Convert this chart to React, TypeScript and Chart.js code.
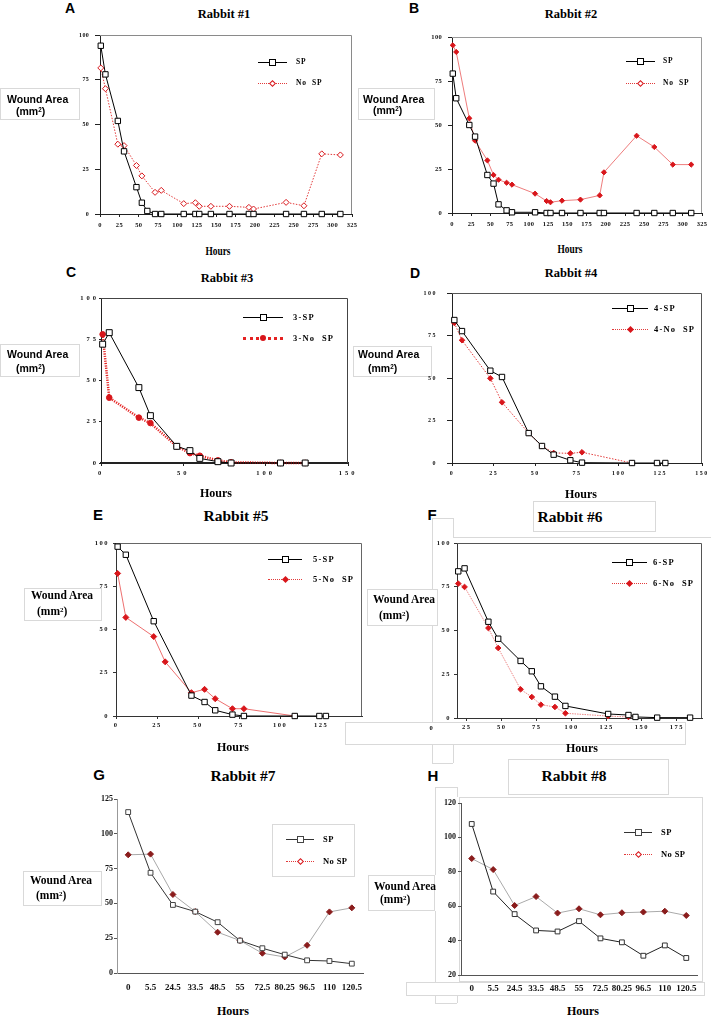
import React, { useEffect, useRef } from 'react';
import { Chart, registerables } from 'chart.js';
Chart.register(...registerables);

// ---------------- data ----------------
const yTicks100 = [0, 25, 50, 75, 100];
const xTicksAB = [0, 25, 50, 75, 100, 125, 150, 175, 200, 225, 250, 275, 300, 325];
const xTicksC = [0, 50, 100, 150];
const xTicksD = [0, 25, 50, 75, 100, 125, 150];
const xTicksE = [0, 25, 50, 75, 100, 125];
const xTicksF = [25, 50, 75, 100, 125, 150, 175];
const yTicksG = [0, 25, 50, 75, 100, 125];
const yTicksH = [20, 40, 60, 80, 100, 120];
const hoursGH = ['0', '5.5', '24.5', '33.5', '48.5', '55', '72.5', '80.25', '96.5', '110', '120.5'];

const hoursA = [1, 7, 23, 31, 47, 54, 61, 71, 79, 108, 123, 128, 143, 167, 192, 198, 240, 263, 286, 310];
const spA = [94, 78, 52, 35, 15, 6.3, 1.7, 0, 0, 0, 0, 0, 0, 0, 0, 0, 0, 0, 0, 0];
const noSpA = [81.6, 70, 39, 38.2, 27.1, 21.3, null, 12.1, 13.2, 5.8, 6.3, 4.3, 4.3, 4.3, 3.7, 2.8, 6.5, 4.6, 33.6, 33];

const hoursB = [1, 5.5, 22.5, 30, 46, 54, 60.5, 71, 78, 108, 123, 128, 143, 167, 192, 197.5, 240, 263, 287, 311];
const spB = [79.2, 65.2, 50, 43.4, 21.6, 16.7, 4.9, 1.5, 0.4, 0.4, 0, 0, 0, 0, 0, 0, 0, 0, 0, 0];
const noSpB = [95.3, 91.5, 53.8, 41.1, 29.9, 21.6, 18.9, 17.2, 16.1, 11, 6.8, 6.1, 7, 7.6, 10, 23.1, 43.9, 37.5, 27.5, 27.5];

const hoursC = [1, 5, 23, 30, 46, 54, 60, 71, 79, 109, 124];
const spC = [72, 79, 45.7, 28.7, 10.1, 7.5, 2.8, 0.8, 0, 0, 0];
const noSpC = [78, 39.6, 27.5, 24.2, 10.1, 6, 4.4, 1.6, 0.4, 0, 0];

const hoursD = [1.4, 6, 23, 30, 46, 54, 61, 71, 78, 108, 123, 128];
const spD = [84.1, 77.6, 54.3, 50.6, 17.6, 10, 4.9, 1.6, 0.2, 0, 0, 0];
const noSpD = [82.4, 72.2, 49.8, 35.7, 17.6, 10, 5.9, 5.7, 6.3, 0, null, null];

const hoursE = [1, 6, 23, 30, 46, 54, 60.5, 71, 78, 109, 124, 128];
const spE = [97.9, 93.2, 54.8, null, 11.8, 8.1, 3.3, 0.8, 0, 0, 0, 0];
const noSpE = [82.4, 57, 45.9, 31.3, 13.5, 15.4, 10, 4.2, 4.2, 0, null, null];

const hoursF = [19, 23.5, 40.5, 47.5, 63.5, 71.5, 78, 88, 95.5, 126, 140.5, 145.5, 161, 184.5];
const spF = [83.8, 85.5, 55, 45.3, 32.6, 26.7, 18.1, 12.2, 6.9, 2.3, 1.7, 0.6, 0.2, 0.2];
const noSpF = [76.8, 74.9, 51.4, 40, 16.4, 12, 7.6, 6.3, 2.7, 1.1, 0.6, null, null, null];

const spG = [115.6, 72, 48.9, 44.1, 36.5, 23.3, 17.8, 13.2, 9.1, 8.6, 6.7];
const noSpG = [84.9, 85.4, 56.4, 44.1, 29.3, 23.3, 14.2, 11.5, 19.9, 43.9, 46.8];

const spH = [107.8, 68.5, 55.4, 45.9, 45.3, 51.3, 41.3, 39, 31.2, 37.2, 29.9];
const noSpH = [87.7, 81.3, 60.4, 65.6, 56, 58.5, 55, 56.2, 56.6, 57.1, 54.6];

// ---------------- styles ----------------
const SERIF = "'Liberation Serif', 'Times New Roman', serif";
const SANS = "'Liberation Sans', Arial, sans-serif";
const RED = '#d8161b';
const MAROON = '#8a1c1c';
const PAD = { l: 40, t: 8, r: 10, b: 28 };

const sq = (stroke = '#000', r = 3.8) => ({ style: 'rect', r, fill: '#fff', stroke });
const dOpen = (c = RED, r = 3) => ({ style: 'rectRot', r, fill: '#fff', stroke: c });
const dFill = (c = RED, r = 2.8) => ({ style: 'rectRot', r, fill: c, stroke: c });
const cFill = (c = RED, r = 2.8) => ({ style: 'circle', r, fill: c, stroke: c });

const framePlugin = {
  id: 'frame',
  beforeDatasetsDraw(chart: any, _a: any, opts: any) {
    if (!opts || !opts.color) return;
    const { ctx, chartArea } = chart;
    const { left, top, right, bottom } = chartArea;
    ctx.save();
    ctx.strokeStyle = opts.color;
    ctx.lineWidth = 1;
    ctx.beginPath();
    ctx.moveTo(left, top + 0.5);
    ctx.lineTo(right - 0.5, top + 0.5);
    ctx.lineTo(right - 0.5, bottom);
    ctx.stroke();
    ctx.restore();
  },
};
const spacingPlugin = {
  id: 'spacing',
  beforeDraw(chart: any, _a: any, opts: any) {
    chart.ctx.letterSpacing = (opts && opts.v) || '0px';
  },
  afterDraw(chart: any) {
    chart.ctx.letterSpacing = '0px';
  },
};

function buildConfig(spec: any) {
  const datasets = spec.series.map((s: any) => ({
    data: s.xs ? s.xs.map((x: number, i: number) => ({ x, y: s.ys[i] })).filter((p: any) => p.y !== null) : s.ys,
    borderColor: s.color,
    borderWidth: s.width,
    borderDash: s.dash,
    pointStyle: s.mk.style,
    pointRadius: s.mk.r,
    pointBackgroundColor: s.mk.fill,
    pointBorderColor: s.mk.stroke,
    pointBorderWidth: 1,
    tension: 0,
    fill: false,
    clip: false,
  }));
  const tickFont = (size: number) => ({ family: SERIF, weight: 'bold', size });
  const x: any = {
    type: spec.labels ? 'category' : 'linear',
    offset: !!spec.labels,
    afterFit: (ax: any) => { ax.height = PAD.b; ax.paddingLeft = 0; ax.paddingRight = 0; },
    grid: { display: spec.xTL > 0, drawOnChartArea: false, drawTicks: spec.xTL > 0, tickLength: spec.xTL, color: spec.axisColor },
    border: { display: true, color: spec.xAxisColor || spec.axisColor, width: spec.xAxisWidth || 1 },
    ticks: { color: '#111', font: tickFont(spec.xFont), padding: spec.xPad, autoSkip: false, maxRotation: 0, minRotation: 0 },
  };
  if (!spec.labels) {
    x.min = spec.xMin;
    x.max = spec.xMax;
    x.afterBuildTicks = (ax: any) => { ax.ticks = spec.xTicks.map((v: number) => ({ value: v })); };
  }
  const y: any = {
    min: spec.yMin,
    max: spec.yMax,
    afterBuildTicks: (ax: any) => { ax.ticks = spec.yTicks.map((v: number) => ({ value: v })); },
    afterFit: (ax: any) => { ax.width = PAD.l; ax.paddingTop = 0; ax.paddingBottom = 0; },
    grid: { display: true, drawOnChartArea: false, drawTicks: true, tickLength: spec.yTL, color: spec.axisColor },
    border: { display: true, color: spec.yAxisColor || spec.axisColor, width: 1 },
    ticks: { color: '#111', font: tickFont(spec.yFont), padding: spec.yPad, autoSkip: false },
  };
  return {
    type: 'line',
    data: { labels: spec.labels, datasets },
    plugins: [framePlugin, spacingPlugin],
    options: {
      responsive: false,
      animation: false,
      events: [],
      layout: { padding: { left: 0, top: PAD.t, right: PAD.r, bottom: 0 } },
      plugins: {
        legend: { display: false },
        tooltip: { enabled: false },
        title: { display: false },
        frame: { color: spec.frame },
        spacing: { v: spec.ls },
      },
      scales: { x, y },
    },
  };
}

function Plot({ spec }: any) {
  const ref = useRef<HTMLCanvasElement>(null);
  const { rect } = spec;
  const w = rect.r - rect.l + PAD.l + PAD.r;
  const h = rect.b - rect.t + PAD.t + PAD.b;
  useEffect(() => {
    const chart = new Chart(ref.current as any, buildConfig(spec) as any);
    return () => chart.destroy();
  }, []);
  return (
    <canvas
      ref={ref}
      width={w}
      height={h}
      style={{ position: 'absolute', left: rect.l - PAD.l, top: rect.t - PAD.t, width: w, height: h }}
    />
  );
}

const common = { yMin: 0, yMax: 100, yTicks: yTicks100 };

const specs: any[] = [
  {
    ...common, rect: { l: 100, t: 35, r: 352, b: 214 }, xMin: 0, xMax: 325, xTicks: xTicksAB,
    series: [
      { xs: hoursA, ys: spA, color: '#000', width: 1, dash: [], mk: sq('#000', 3.8) },
      { xs: hoursA, ys: noSpA, color: '#e23a3a', width: 1, dash: [1.5, 1.5], mk: dOpen(RED, 3) },
    ],
    axisColor: '#222', frame: '#8a8a8a', xFont: 6.5, yFont: 6, ls: '0.3px', xTL: 3, xPad: 4, yTL: 5, yPad: 6,
  },
  {
    ...common, rect: { l: 452, t: 37, r: 702, b: 213 }, xMin: 0, xMax: 325, xTicks: xTicksAB,
    series: [
      { xs: hoursB, ys: spB, color: '#000', width: 1, dash: [], mk: sq('#000', 3.8) },
      { xs: hoursB, ys: noSpB, color: '#e85a5a', width: 0.8, dash: [], mk: dFill(RED, 2.6) },
    ],
    axisColor: '#222', frame: '#9a9a9a', xFont: 6.5, yFont: 6.5, ls: '0.3px', xTL: 3, xPad: 4, yTL: 4, yPad: 6,
  },
  {
    ...common, rect: { l: 101, t: 298, r: 348, b: 463 }, xMin: 0, xMax: 150, xTicks: xTicksC,
    series: [
      { xs: hoursC, ys: spC, color: '#000', width: 1, dash: [], mk: sq('#000', 4.2) },
      { xs: hoursC, ys: noSpC, color: '#e52222', width: 2.5, dash: [1.2, 1.2], mk: cFill(RED, 2.8) },
    ],
    axisColor: '#222', xAxisWidth: 2, frame: '#444', xFont: 6.5, yFont: 6.5, ls: '3px', xTL: 3, xPad: 3.5, yTL: 2, yPad: 0,
  },
  {
    ...common, rect: { l: 452, t: 293, r: 702, b: 463 }, xMin: 0, xMax: 150, xTicks: xTicksD,
    series: [
      { xs: hoursD, ys: spD, color: '#000', width: 1, dash: [], mk: sq('#000', 3.8) },
      { xs: hoursD, ys: noSpD, color: '#e23a3a', width: 1, dash: [1.5, 1.5], mk: dFill(RED, 2.8) },
    ],
    axisColor: '#222', frame: '#555', xFont: 6, yFont: 6, ls: '1.5px', xTL: 3, xPad: 3.5, yTL: 5, yPad: 10,
  },
  {
    ...common, rect: { l: 116, t: 543, r: 362, b: 716 }, xMin: 0, xMax: 150, xTicks: xTicksE,
    series: [
      { xs: hoursE, ys: spE, color: '#000', width: 1, dash: [], mk: sq('#000', 3.8) },
      { xs: hoursE, ys: noSpE, color: '#e84a4a', width: 0.8, dash: [], mk: dFill(RED, 3) },
    ],
    axisColor: '#333', frame: '#666', xFont: 6.5, yFont: 6.5, ls: '1.5px', xTL: 3, xPad: 2.5, yTL: 3, yPad: 4,
  },
  {
    ...common, rect: { l: 457, t: 543, r: 702, b: 718 }, xMin: 18.1, xMax: 193, xTicks: xTicksF,
    series: [
      { xs: hoursF, ys: spF, color: '#000', width: 1, dash: [], mk: sq('#000', 3.8) },
      { xs: hoursF, ys: noSpF, color: '#e86a6a', width: 0.8, dash: [1.5, 1], mk: dFill(RED, 2.8) },
    ],
    axisColor: '#333', frame: '#555', xFont: 6.5, yFont: 6.5, ls: '1.5px', xTL: 3, xPad: 2.5, yTL: 3, yPad: 3,
  },
  {
    rect: { l: 117, t: 799, r: 363, b: 973 }, labels: hoursGH, yMin: 0, yMax: 125, yTicks: yTicksG,
    series: [
      { xs: null, ys: spG, color: '#333', width: 1, dash: [], mk: sq('#444', 3.4) },
      { xs: null, ys: noSpG, color: '#a8a8a8', width: 1, dash: [], mk: dFill(MAROON, 3) },
    ],
    axisColor: '#555', yAxisColor: '#999', frame: null, xFont: 9, yFont: 8, ls: '0px', xTL: 0, xPad: 9, yTL: 3, yPad: 1,
  },
  {
    rect: { l: 461, t: 803, r: 697, b: 975 }, labels: hoursGH, yMin: 20, yMax: 120, yTicks: yTicksH,
    series: [
      { xs: null, ys: spH, color: '#222', width: 1, dash: [], mk: sq('#333', 3.4) },
      { xs: null, ys: noSpH, color: '#aaaaaa', width: 1, dash: [], mk: dFill(MAROON, 3) },
    ],
    axisColor: '#555', frame: null, xFont: 9, yFont: 8, ls: '0px', xTL: 0, xPad: 8, yTL: 3, yPad: 2,
  },
];

// ---------------- overlay helpers ----------------
function T({ x, y, size, family = SERIF, weight = 'bold', anchor = 'center', ls = 0, sx = 1, children }: any) {
  const base = anchor === 'center' ? 'translate(-50%,-50%)' : 'translate(0,-50%)';
  return (
    <div
      style={{
        position: 'absolute', left: x, top: y,
        transform: sx !== 1 ? `${base} scaleX(${sx})` : base,
        fontSize: size, fontFamily: family, fontWeight: weight, lineHeight: 1,
        whiteSpace: 'pre', color: '#000', letterSpacing: ls,
      }}
    >
      {children}
    </div>
  );
}

const GRAY = '#d9d9d9';
function HL({ x1, x2, y }: any) {
  return <div style={{ position: 'absolute', left: x1, top: y, width: x2 - x1, height: 1, background: GRAY }} />;
}
function VL({ x, y1, y2 }: any) {
  return <div style={{ position: 'absolute', left: x, top: y1, width: 1, height: y2 - y1, background: GRAY }} />;
}
function Bx({ l, t, r, b, bg = 'transparent' }: any) {
  return (
    <div style={{ position: 'absolute', left: l, top: t, width: r - l, height: b - t, border: `1px solid ${GRAY}`, background: bg, boxSizing: 'border-box' }} />
  );
}

function Mark({ cx, cy, kind }: any) {
  const base: any = { position: 'absolute', boxSizing: 'border-box' };
  if (kind === 'sq') {
    return <div style={{ ...base, left: cx - 3.5, top: cy - 3.5, width: 7, height: 7, border: '1px solid #000', background: '#fff' }} />;
  }
  if (kind === 'sqg') {
    return <div style={{ ...base, left: cx - 3.5, top: cy - 3.5, width: 7, height: 7, border: '1px solid #444', background: '#fff' }} />;
  }
  if (kind === 'cFill') {
    return <div style={{ ...base, left: cx - 3, top: cy - 3, width: 6, height: 6, borderRadius: '50%', background: RED }} />;
  }
  const open = kind === 'dOpen';
  return (
    <div
      style={{
        ...base, left: cx - 2.5, top: cy - 2.5, width: 5, height: 5, transform: 'rotate(45deg)',
        border: open ? `1px solid ${RED}` : 'none', background: open ? '#fff' : RED,
      }}
    />
  );
}

function Legend({ x1, x2, tx, y1, y2, a, b, la, lb, ma, mb, size, ls }: any) {
  const cx = (x1 + x2) / 2;
  const lineDiv = (y: number, border: string) => {
    const w = parseFloat(border);
    return <div style={{ position: 'absolute', left: x1, top: y - w / 2, width: x2 - x1, height: 0, borderTop: border }} />;
  };
  return (
    <>
      {lineDiv(y1, la)}
      <Mark cx={cx} cy={y1} kind={ma} />
      <T x={tx} y={y1} size={size} anchor="left" ls={ls}>{a}</T>
      {lineDiv(y2, lb)}
      <Mark cx={cx} cy={y2} kind={mb} />
      <T x={tx} y={y2} size={size} anchor="left" ls={ls}>{b}</T>
    </>
  );
}

const legends = [
  { x1: 258, x2: 287, tx: 296, y1: 62, y2: 83, a: 'SP', b: 'No  SP', la: '1px solid #000', lb: '1px dotted #e23a3a', ma: 'sq', mb: 'dOpen', size: 7.5, ls: 0.8 },
  { x1: 626, x2: 655, tx: 663, y1: 61, y2: 83, a: 'SP', b: 'No  SP', la: '1px solid #000', lb: '1px dotted #e23a3a', ma: 'sq', mb: 'dOpen', size: 7.5, ls: 0.8 },
  { x1: 243, x2: 283, tx: 293, y1: 317, y2: 338, a: '3-SP', b: '3-No  SP', la: '1px solid #000', lb: '3px dotted #e52222', ma: 'sq', mb: 'cFill', size: 8.5, ls: 1.2 },
  { x1: 612, x2: 648, tx: 654, y1: 308, y2: 329, a: '4-SP', b: '4-No  SP', la: '1px solid #000', lb: '1px dotted #e23a3a', ma: 'sq', mb: 'dFill', size: 8.5, ls: 1.2 },
  { x1: 268, x2: 302, tx: 313, y1: 559, y2: 579, a: '5-SP', b: '5-No  SP', la: '1px solid #000', lb: '1px dotted #e23a3a', ma: 'sq', mb: 'dFill', size: 8.5, ls: 1.2 },
  { x1: 612, x2: 647, tx: 653, y1: 562, y2: 583, a: '6-SP', b: '6-No  SP', la: '1px solid #000', lb: '1px dotted #e23a3a', ma: 'sq', mb: 'dFill', size: 8.5, ls: 1.2 },
  { x1: 286, x2: 314, tx: 323, y1: 839, y2: 861, a: 'SP', b: 'No SP', la: '1px solid #333', lb: '1px dotted #e23a3a', ma: 'sqg', mb: 'dOpen', size: 8.5, ls: 0.4 },
  { x1: 624, x2: 652, tx: 661, y1: 832, y2: 854, a: 'SP', b: 'No SP', la: '1px solid #333', lb: '1px dotted #e23a3a', ma: 'sqg', mb: 'dOpen', size: 8.5, ls: 0.4 },
];

const letters: [string, number, number, number][] = [
  ['A', 70, 8, 14], ['B', 414, 8, 14], ['C', 71, 272, 14], ['D', 415, 273, 14],
  ['E', 98, 514, 15], ['F', 432, 514, 15], ['G', 99, 774, 15], ['H', 433, 775, 15],
];
const titles: [string, number, number, number][] = [
  ['Rabbit #1', 224, 14, 12.5], ['Rabbit #2', 571, 14, 12.5], ['Rabbit #3', 227, 278, 12.5], ['Rabbit #4', 571, 273, 12.5],
  ['Rabbit #5', 236, 516, 15.5], ['Rabbit #6', 570, 517, 15.5], ['Rabbit #7', 243, 776, 15.5], ['Rabbit #8', 574, 776, 15.5],
];
const hoursLabels: [number, number, number, number][] = [
  [218, 251, 12, 0.78], [570, 249, 12, 0.78], [216, 493, 12, 1], [581, 494, 12, 1],
  [233, 747, 12, 1], [582, 748, 12, 1], [233, 1011, 12, 1], [583, 1011, 12, 1],
];
// box l,t,r,b, text x, line1 y, mm x, line2 y, family, size
const woundBoxes: any[] = [
  [0, 88, 80, 120, 7, 99, 16, 111, SANS, 10.5],
  [358, 88, 435, 120, 363, 99, 373, 110, SANS, 10.5],
  [0, 344, 80, 377, 7, 354, 16, 368, SANS, 10.5],
  [353, 346, 432, 377, 358, 354, 368, 368, SANS, 10.5],
  [24, 588, 102, 621, 31, 596, 37, 612, SERIF, 11.5],
  [367, 589, 438, 626, 373, 600, 379, 616, SERIF, 11.5],
  [23, 871, 102, 906, 30, 881, 36, 896, SERIF, 11.5],
  [368, 875, 435, 911, 374, 887, 380, 900, SERIF, 11.5],
];

export default function App() {
  return (
    <div style={{ position: 'absolute', left: 0, top: 0, width: 711, height: 1017, overflow: 'hidden', background: '#fff' }}>
      {/* light image-outline artifacts */}
      <VL x={432} y1={518} y2={589} />
      <VL x={432} y1={626} y2={722} />
      <HL x1={432} x2={453} y={518} />
      <VL x={453} y1={518} y2={537} />
      <HL x1={453} x2={711} y={537} />
      <Bx l={345} t={722} r={686} b={745} bg="#fff" />
      <VL x={432} y1={745} y2={763} />
      <HL x1={432} x2={453} y={763} />
      <VL x={453} y1={745} y2={763} />
      <Bx l={533} t={501} r={656} b={532} />
      <VL x={435} y1={787} y2={875} />
      <VL x={435} y1={911} y2={982} />
      <HL x1={435} x2={457} y={787} />
      <VL x={457} y1={787} y2={797} />
      <Bx l={459} t={797} r={703} b={982} />
      <Bx l={406} t={982} r={705} b={996} />
      <VL x={435} y1={996} y2={1003} />
      <HL x1={435} x2={457} y={1003} />
      <VL x={457} y1={996} y2={1003} />
      <Bx l={508} t={759} r={669} b={795} />
      <Bx l={272} t={824} r={355} b={877} />
      {woundBoxes.map((w, i) => (
        <Bx key={'wb' + i} l={w[0]} t={w[1]} r={w[2]} b={w[3]} bg="#fff" />
      ))}

      {specs.map((s, i) => (
        <Plot key={'p' + i} spec={s} />
      ))}

      {woundBoxes.map((w, i) => (
        <React.Fragment key={'wt' + i}>
          <T x={w[4]} y={w[5]} size={w[9]} family={w[8]} anchor="left">Wound Area</T>
          <T x={w[6]} y={w[7]} size={w[9]} family={w[8]} anchor="left">
            (mm<sup style={{ fontSize: '0.6em', verticalAlign: '0.5em', lineHeight: 0 }}>2</sup>)
          </T>
        </React.Fragment>
      ))}
      {letters.map(([t, x, y, s]) => (
        <T key={'l' + t} x={x} y={y} size={s} family={SANS}>{t}</T>
      ))}
      {titles.map(([t, x, y, s]) => (
        <T key={'t' + t} x={x} y={y} size={s}>{t}</T>
      ))}
      {hoursLabels.map(([x, y, s, sx], i) => (
        <T key={'h' + i} x={x} y={y} size={s} sx={sx}>Hours</T>
      ))}
      <T x={431} y={728} size={6.5}>0</T>
      {legends.map((l, i) => (
        <Legend key={'lg' + i} {...l} />
      ))}
    </div>
  );
}
